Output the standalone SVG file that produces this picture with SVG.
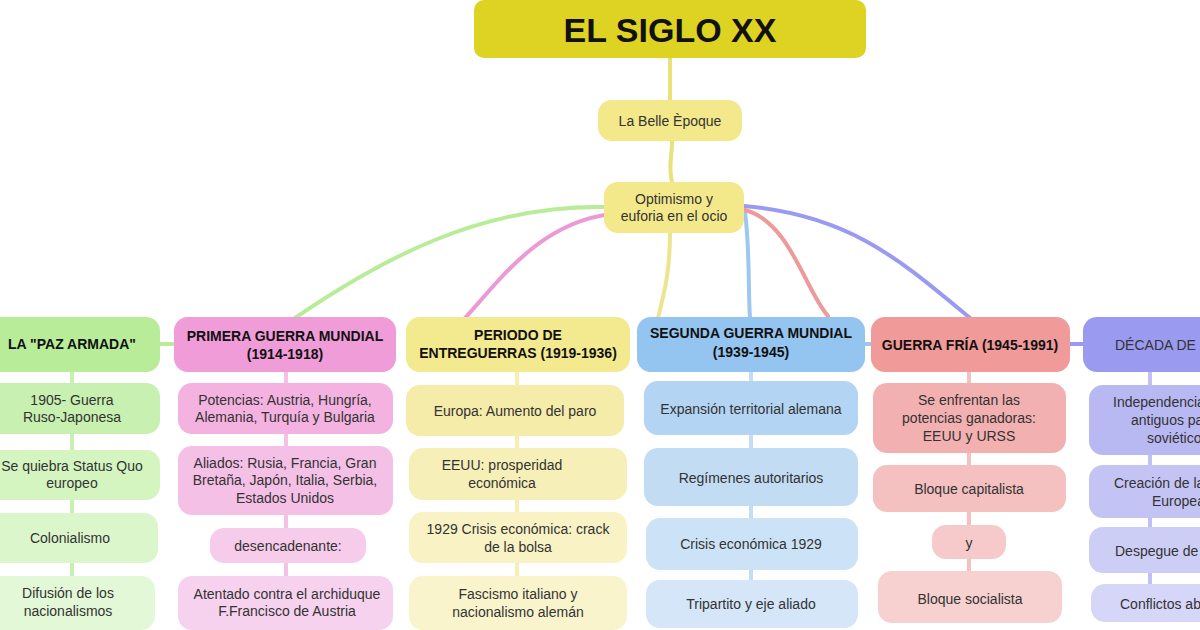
<svg xmlns="http://www.w3.org/2000/svg" width="1200" height="630" viewBox="0 0 1200 630">
<style>
text{font-family:"Liberation Sans",Arial,sans-serif;font-size:14px;fill:#333;text-anchor:middle}
.h{font-weight:bold;fill:#111}
.c{fill:none;stroke-width:4;stroke-linecap:round}
</style>
<rect width="1200" height="630" fill="#fff"/>
<g id="connectors">
<path class="c" stroke="#e8e27a" d="M670,58 V100 M672,141 C672,160 668,165 672,182"/>
<path class="c" stroke="#b8ec98" d="M604,207 C480,205 380,260 295,318 M160,344 H176"/>
<path class="c" stroke="#ec9ad6" d="M612,214 C540,222 500,280 465,318"/>
<path class="c" stroke="#ece58e" d="M670,233 C670,270 665,290 658,318"/>
<path class="c" stroke="#9cc8f0" d="M745,212 C750,250 748,290 750,318 M865,344 H873"/>
<path class="c" stroke="#ee9a9a" d="M745,210 C790,222 805,290 828,316"/>
<path class="c" stroke="#9a9af0" d="M744,206 C850,215 900,260 970,318 M1070,344 H1085"/>
<path class="c" stroke="#c8f0b0" stroke-width="8" d="M72,370 V600"/>
<path class="c" stroke="#f4c0e6" stroke-width="8" d="M286,370 V600"/>
<path class="c" stroke="#f6eeb4" stroke-width="8" d="M517,370 V600"/>
<path class="c" stroke="#c4dcf4" stroke-width="8" d="M751,370 V600"/>
<path class="c" stroke="#f4c0c0" stroke-width="8" d="M969,370 V600"/>
<path class="c" stroke="#c0c0f4" stroke-width="8" d="M1150,370 V600"/>
</g>
<g id="title"><rect x="474" y="0" width="392" height="58" rx="10" fill="#ded222"/><text x="670" y="42" class="h" style="font-size:34px">EL SIGLO XX</text></g>
<g id="belle"><rect x="598" y="100" width="144" height="41" rx="14" fill="#f3e88a"/><text x="670" y="126">La Belle Èpoque</text></g>
<g id="optimismo"><rect x="604" y="182" width="140" height="51" rx="14" fill="#f3e88a"/><text x="674" y="204">Optimismo y</text><text x="674" y="221">euforia en el ocio</text></g>

<g id="paz"><rect x="-20" y="317" width="180" height="55" rx="14" fill="#b8ec98"/><text x="72" y="349" class="h">LA "PAZ ARMADA"</text></g>
<g id="paz1"><rect x="-20" y="383" width="180" height="51" rx="14" fill="#c8f0b0"/><text x="72" y="405">1905- Guerra</text><text x="72" y="422">Ruso-Japonesa</text></g>
<g id="paz2"><rect x="-20" y="450" width="180" height="50" rx="14" fill="#d4f4c0"/><text x="72" y="471">Se quiebra Status Quo</text><text x="72" y="488">europeo</text></g>
<g id="paz3"><rect x="-20" y="513" width="178" height="50" rx="14" fill="#dcf6cc"/><text x="70" y="543">Colonialismo</text></g>
<g id="paz4"><rect x="-20" y="576" width="175" height="54" rx="14" fill="#e2f8d6"/><text x="68" y="598">Difusión de los</text><text x="68" y="616">nacionalismos</text></g>

<g id="primera"><rect x="174" y="317" width="222" height="55" rx="14" fill="#f09cd8"/><text x="285" y="341" class="h">PRIMERA GUERRA MUNDIAL</text><text x="285" y="359" class="h">(1914-1918)</text></g>
<g id="pr1"><rect x="178" y="383" width="215" height="51" rx="14" fill="#f3b2e0"/><text x="285" y="405">Potencias: Austria, Hungría,</text><text x="285" y="422">Alemania, Turquía y Bulgaria</text></g>
<g id="pr2"><rect x="178" y="446" width="215" height="69" rx="14" fill="#f4c0e6"/><text x="285" y="468">Aliados: Rusia, Francia, Gran</text><text x="285" y="485">Bretaña, Japón, Italia, Serbia,</text><text x="285" y="503">Estados Unidos</text></g>
<g id="pr3"><rect x="210" y="528" width="156" height="35" rx="14" fill="#f6ccea"/><text x="288" y="551">desencadenante:</text></g>
<g id="pr4"><rect x="178" y="576" width="215" height="54" rx="14" fill="#f6d2ee"/><text x="287" y="599">Atentado contra el archiduque</text><text x="287" y="616">F.Francisco de Austria</text></g>

<g id="periodo"><rect x="406" y="317" width="224" height="55" rx="14" fill="#f3e98e"/><text x="518" y="340" class="h">PERIODO DE</text><text x="518" y="358" class="h">ENTREGUERRAS (1919-1936)</text></g>
<g id="pe1"><rect x="406" y="385" width="218" height="51" rx="14" fill="#f5ecaa"/><text x="515" y="416">Europa: Aumento del paro</text></g>
<g id="pe2"><rect x="409" y="448" width="218" height="52" rx="14" fill="#f6efb8"/><text x="502" y="470">EEUU: prosperidad</text><text x="502" y="488">económica</text></g>
<g id="pe3"><rect x="409" y="512" width="218" height="51" rx="14" fill="#f8f2c4"/><text x="518" y="534">1929 Crisis económica: crack</text><text x="518" y="552">de la bolsa</text></g>
<g id="pe4"><rect x="409" y="576" width="218" height="54" rx="14" fill="#f9f4cc"/><text x="518" y="599">Fascismo italiano y</text><text x="518" y="617">nacionalismo alemán</text></g>

<g id="segunda"><rect x="637" y="317" width="228" height="55" rx="14" fill="#94c4f0"/><text x="751" y="338" class="h">SEGUNDA GUERRA MUNDIAL</text><text x="751" y="357" class="h">(1939-1945)</text></g>
<g id="se1"><rect x="644" y="381" width="214" height="54" rx="14" fill="#b4d4f4"/><text x="751" y="414">Expansión territorial alemana</text></g>
<g id="se2"><rect x="644" y="448" width="214" height="58" rx="14" fill="#c2dcf4"/><text x="751" y="483">Regímenes autoritarios</text></g>
<g id="se3"><rect x="646" y="518" width="212" height="52" rx="14" fill="#cce2f6"/><text x="751" y="549">Crisis económica 1929</text></g>
<g id="se4"><rect x="646" y="580" width="212" height="48" rx="14" fill="#d4e6f8"/><text x="751" y="609">Tripartito y eje aliado</text></g>

<g id="fria"><rect x="871" y="317" width="199" height="55" rx="14" fill="#f09a9a"/><text x="970" y="350" class="h">GUERRA FRÍA (1945-1991)</text></g>
<g id="fr1"><rect x="873" y="383" width="193" height="70" rx="14" fill="#f2b0b0"/><text x="969" y="405">Se enfrentan las</text><text x="969" y="423">potencias ganadoras:</text><text x="969" y="441">EEUU y URSS</text></g>
<g id="fr2"><rect x="873" y="465" width="193" height="47" rx="14" fill="#f4c0c0"/><text x="969" y="494">Bloque capitalista</text></g>
<g id="fr3"><rect x="932" y="525" width="74" height="34" rx="14" fill="#f6caca"/><text x="969" y="548">y</text></g>
<g id="fr4"><rect x="878" y="571" width="184" height="52" rx="14" fill="#f7d0d0"/><text x="970" y="604">Bloque socialista</text></g>

<g id="decada"><rect x="1083" y="317" width="140" height="55" rx="14" fill="#9a9af0"/><text x="1115" y="350" style="text-anchor:start">DÉCADA DE</text></g>
<g id="de1"><rect x="1089" y="385" width="130" height="70" rx="14" fill="#b8b8f2"/><text x="1113" y="407" style="text-anchor:start">Independencia de</text><text x="1131" y="425" style="text-anchor:start">antiguos países</text><text x="1147" y="443" style="text-anchor:start">soviéticos</text></g>
<g id="de2"><rect x="1089" y="465" width="130" height="53" rx="14" fill="#c4c4f4"/><text x="1114" y="488" style="text-anchor:start">Creación de la</text><text x="1152" y="506" style="text-anchor:start">Europea</text></g>
<g id="de3"><rect x="1089" y="527" width="130" height="46" rx="14" fill="#cccef6"/><text x="1115" y="556" style="text-anchor:start">Despegue de</text></g>
<g id="de4"><rect x="1091" y="584" width="130" height="38" rx="14" fill="#d6d6f8"/><text x="1120" y="609" style="text-anchor:start">Conflictos ab</text></g>
</svg>
